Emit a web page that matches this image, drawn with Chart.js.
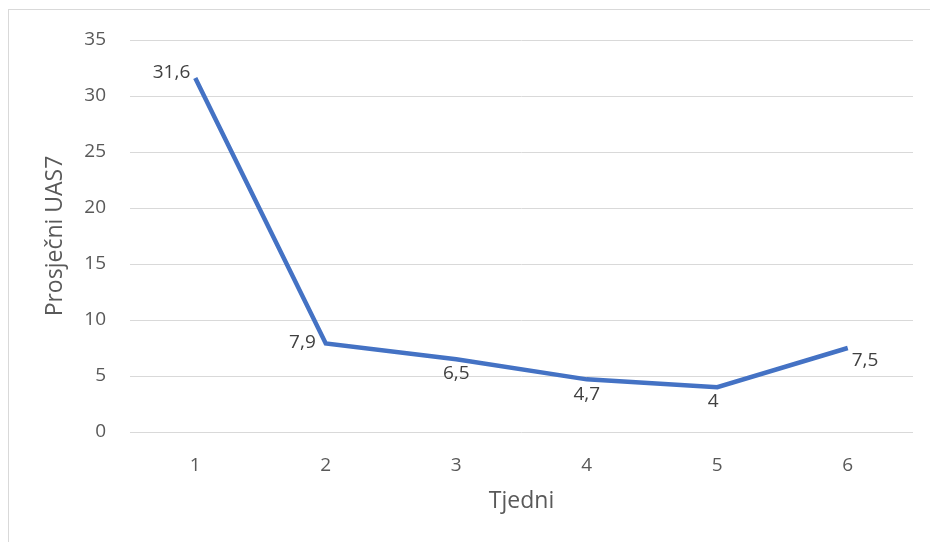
<!DOCTYPE html>
<html>
<head>
<meta charset="utf-8">
<script src="https://cdn.jsdelivr.net/npm/chart.js@4"></script>
<style>
    html, body { margin: 0; padding: 0; background: #fff; overflow: hidden; }
    #wrap { position: relative; width: 930px; height: 542px; }
    #frame { position: absolute; left: 8px; top: 9px; width: 940px; height: 560px; border: 1px solid #d9d9d9; box-sizing: border-box; }
    canvas { position: absolute; left: 0; top: 0; }
</style>
</head>
<body>
<div id="wrap">
    <div id="frame"></div>
    <canvas id="chart" width="930" height="542"></canvas>
</div>
<script>
    // weeks and average UAS7 per week
    var weeks = ['1', '2', '3', '4', '5', '6']
    var uas7 = [31.6, 7.9, 6.5, 4.7, 4, 7.5]
    var yTicks = [0, 5, 10, 15, 20, 25, 30, 35]

    var font = '"Open Sans", sans-serif'
    var gray = '#595959'

    // where each value label sits relative to its point: [dx, dy, align]
    var labelPlace = [
        [-5, -5, 'right'],
        [-10, -1, 'right'],
        [0, 14, 'center'],
        [0, 15, 'center'],
        [-4, 14, 'center'],
        [4, 13, 'left']
    ]

    var valueLabels = {
        id: 'valueLabels',
        afterDatasetsDraw(chart) {
            var ctx = chart.ctx
            var meta = chart.getDatasetMeta(0)
            ctx.save()
            ctx.font = '19px ' + font
            ctx.fillStyle = '#404040'
            ctx.textBaseline = 'middle'
            meta.data.forEach(function(pt, i) {
                var p = labelPlace[i]
                ctx.textAlign = p[2]
                ctx.fillText(String(uas7[i]).replace('.', ','), pt.x + p[0], pt.y + p[1])
            })
            ctx.restore()
        }
    }

    var el = document.getElementById('chart')
    var chart = new Chart(el, {
        type: 'line',
        data: {
            labels: weeks,
            datasets: [
                {
                    data: uas7,
                    borderColor: '#4472c4',
                    borderWidth: 4.5,
                    pointRadius: 0,
                    tension: 0,
                    fill: false
                }
            ]
        },
        options: {
            responsive: false,
            animation: false,
            layout: { padding: { top: 40, right: 17, left: 0, bottom: 0 } },
            plugins: {
                legend: { display: false },
                tooltip: { enabled: false }
            },
            scales: {
                x: {
                    offset: true,
                    grid: { display: false, drawTicks: false },
                    border: { display: false },
                    ticks: { color: gray, font: { family: font, size: 19 }, padding: 22 },
                    title: {
                        display: true,
                        text: 'Tjedni',
                        color: gray,
                        font: { family: font, size: 23 },
                        padding: { top: 0, bottom: 27 }
                    },
                    afterFit(scale) { scale.height = 110 }
                },
                y: {
                    min: 0,
                    max: 35,
                    afterBuildTicks(scale) { scale.ticks = yTicks.map(function(v) { return { value: v } }) },
                    grid: { color: '#d9d9d9', lineWidth: 1, drawTicks: false },
                    border: { display: false },
                    ticks: { color: gray, font: { family: font, size: 19 }, padding: 24 },
                    title: {
                        display: true,
                        text: 'Prosječni UAS7',
                        color: gray,
                        font: { family: font, size: 23 },
                        padding: { top: 42, bottom: 0 }
                    },
                    afterFit(scale) { scale.width = 130 }
                }
            }
        },
        plugins: [valueLabels]
    })
</script>
</body>
</html>
